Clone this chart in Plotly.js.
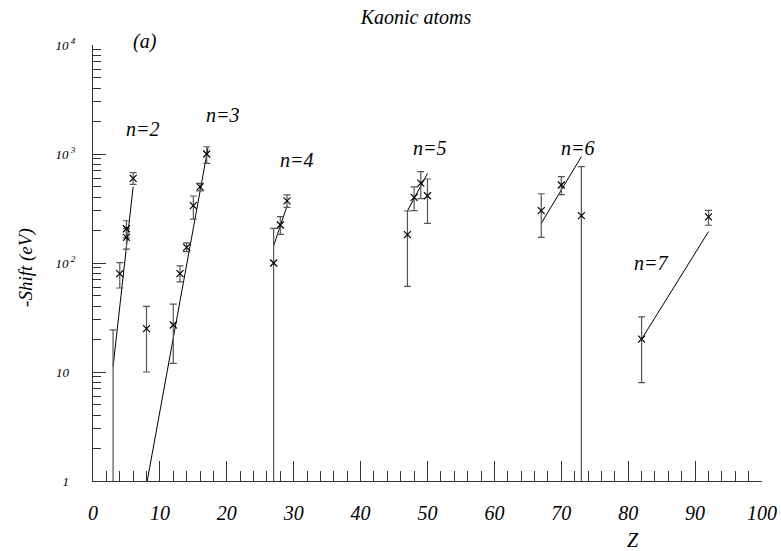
<!DOCTYPE html>
<html>
<head>
<meta charset="utf-8">
<script src="https://cdn.plot.ly/plotly-3.0.1.min.js"></script>
<style>html,body{margin:0;padding:0;background:#fff;}#chart{width:781px;height:551px;}</style>
</head>
<body>
<div id="chart"></div>
<script>
// Measurements (Z, -shift in eV, upper and lower error)
var measZ        = [3,    4,  5,   5,   6,   8,  12, 13, 14,  15,  16,  17,   27,  28,  29,  47,  48,  49,  50,  67,  70,  73,  82, 92];
var measShift    = [0.5,  80, 206, 172, 598, 25, 27, 80, 139, 336, 500, 1000, 100, 223, 372, 182, 400, 540, 414, 302, 520, 272, 20, 265];
var measErrPlus  = [23.8, 21, 38,  36,  76,  15, 15, 14, 14,  76,  38,  166,  108, 43,  49,  118, 100, 148, 176, 130, 99,  493, 12, 39];
var measErrMinus = [0.5,  21, 36,  38,  71,  15, 15, 13, 12,  83,  42,  178,  100, 40,  48,  121, 98,  151, 183, 130, 96,  272, 12, 43];

// Fitted lines for each level n
var lineLabels = ['n=2', 'n=3', 'n=4', 'n=5', 'n=6', 'n=7'];
var lineZ      = [[3, 6], [8.1, 17.2], [27, 29], [47, 50], [67, 73], [82, 92]];
var lineShift  = [[11.2, 500], [1, 1150], [144, 333], [300, 665], [231, 946], [20, 194]];

// Axis tick labels
var xTickVals = [0, 10, 20, 30, 40, 50, 60, 70, 80, 90, 100];
var yTickVals = [1, 10, 100, 1000, 10000];
var yTickText = ['1\u2002', '10\u2002', '10<sup> 2</sup>', '10<sup> 3</sup>', '10<sup> 4</sup>'];

var FONT = 'Liberation Serif';

var traces = [];
for (var i = 0; i < lineZ.length; i++) {
  traces.push({
    type: 'scatter', mode: 'lines', x: lineZ[i], y: lineShift[i],
    name: lineLabels[i], showlegend: false,
    line: {color: '#000', width: 1}
  });
}
traces.push({
  type: 'scatter', mode: 'markers', x: measZ, y: measShift, showlegend: false,
  marker: {symbol: 'x-thin', size: 7, color: '#000', line: {color: '#000', width: 1.2}},
  error_y: {type: 'data', symmetric: false, array: measErrPlus, arrayminus: measErrMinus,
            color: '#555', thickness: 1.2, width: 3.5}
});

var minorY = [];
for (var d = 1; d <= 1000; d *= 10) {
  for (var k = 2; k <= 9; k++) minorY.push(k * d);
}

var italic = function (size) { return {family: FONT, size: size, style: 'italic', weight: 'normal', color: '#000'}; };

// label positions (data coords, y as log10)
var labelPos = [[7.5, 3.227], [19.4, 3.355], [30.5, 2.945], [50.4, 3.052], [72.5, 3.052], [83.4, 1.997]];
var annotations = [];
for (var j = 0; j < lineLabels.length; j++) {
  annotations.push({
    x: labelPos[j][0], y: labelPos[j][1], xref: 'x', yref: 'y',
    xanchor: 'center', yanchor: 'middle',
    text: lineLabels[j], showarrow: false, font: italic(20)
  });
}
annotations.push({x: 0.0782, y: 1.008, xref: 'paper', yref: 'paper', xanchor: 'center', yanchor: 'middle',
  text: '(a)', showarrow: false, font: italic(20)});
annotations.push({x: 0.8075, y: -0.1353, xref: 'paper', yref: 'paper', xanchor: 'center', yanchor: 'middle',
  text: 'Z', showarrow: false, font: italic(20)});
annotations.push({x: -0.1, y: 0.489, xref: 'paper', yref: 'paper', xanchor: 'center', yanchor: 'middle',
  text: '-Shift (eV)', textangle: -90, showarrow: false, font: italic(19)});

var layout = {
  width: 781, height: 551,
  margin: {l: 93, r: 19, t: 45, b: 70},
  paper_bgcolor: '#fff', plot_bgcolor: '#fff',
  showlegend: false,
  title: {text: 'Kaonic atoms', x: 0.4828, xref: 'paper', xanchor: 'center',
          y: 0.969, yref: 'container', yanchor: 'middle', font: italic(20)},
  xaxis: {
    range: [0, 100], showgrid: false, zeroline: false,
    showline: true, linecolor: '#333', linewidth: 1,
    ticks: 'inside', ticklen: 20, tickwidth: 1, tickcolor: '#333',
    tickmode: 'array', tickvals: xTickVals,
    ticklabelstandoff: 14,
    tickfont: italic(20),
    minor: {dtick: 2, tick0: 0, ticks: 'inside', ticklen: 10, tickwidth: 1, tickcolor: '#333', showgrid: false}
  },
  yaxis: {
    type: 'log', range: [0, 4], showgrid: false, zeroline: false,
    showline: true, linecolor: '#333', linewidth: 1,
    ticks: 'inside', ticklen: 13, tickwidth: 1, tickcolor: '#333',
    tickmode: 'array', tickvals: yTickVals, ticktext: yTickText,
    ticklabelstandoff: 14,
    tickfont: italic(13),
    minor: {tickmode: 'array', tickvals: minorY, ticks: 'inside', ticklen: 8, tickwidth: 1, tickcolor: '#333', showgrid: false}
  },
  annotations: annotations
};

Plotly.newPlot('chart', traces, layout, {displayModeBar: false, staticPlot: true});
</script>
</body>
</html>
